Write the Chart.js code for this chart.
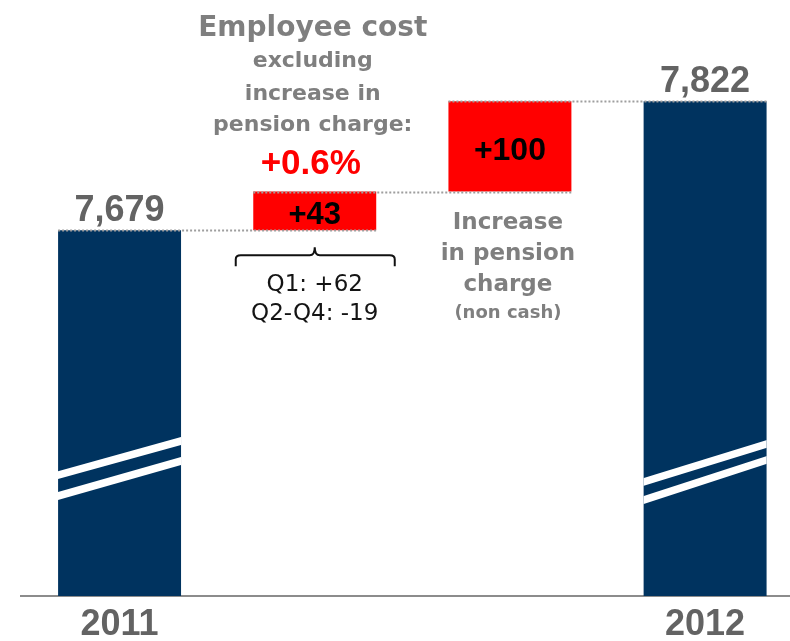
<!DOCTYPE html>
<html>
<head>
<meta charset="utf-8">
<script src="https://cdn.jsdelivr.net/npm/chart.js@4/dist/chart.umd.min.js"></script>
<style>
  html, body { margin: 0; padding: 0; background: #ffffff; overflow: hidden; }
  #wrap { position: relative; width: 790px; height: 641px; }
</style>
</head>
<body>
<div id="wrap"><canvas id="chart"></canvas></div>
<script>
// Employee cost bridge 2011 -> 2012
const categories = ['2011', 'Employee cost excl. pension', 'Increase in pension charge', '2012'];
const tickLabels = ['2011', '', '', '2012'];
const amounts = [7679, 43, 100, 7822];
const isTotal = [true, false, false, true];

const titleLines = ['Employee cost', 'excluding', 'increase in', 'pension charge:'];
const headline = '+0.6%';
const quarterLines = ['Q1: +62', 'Q2-Q4: -19'];
const pensionLines = ['Increase', 'in pension', 'charge'];
const pensionNote = '(non cash)';

const NAVY = '#00335f';
const RED = '#ff0000';
const GREY_TEXT = '#7f7f7f';
const VALUE_TEXT = '#636363';

// Totals stand on the axis; changes float on top of the running total.
let running = 0;
const points = amounts.map((v, i) => {
  if (isTotal[i]) { running = v; return { x: i, y: v }; }
  const p = { x: i, y: [running, running + v] };
  running += v;
  return p;
});
const levels = points.map(p => Array.isArray(p.y) ? p.y[1] : p.y);
const valueText = amounts.map((v, i) => isTotal[i] ? v.toLocaleString('en-US') : '+' + v);

const bridgePlugin = {
  id: 'bridge',
  afterDatasetsDraw(chart) {
    const ctx = chart.ctx;
    const bars = chart.getDatasetMeta(0).data;
    const y = chart.scales.y;
    const area = chart.chartArea;
    const axisY = y.getPixelForValue(y.min);

    // axis-break stripes across the total columns
    const stripes = [[0, [[121, 155], [100, 135]]], [3, [[114, 152], [96, 136]]]];
    stripes.forEach(([k, pairs]) => {
      const b = bars[k];
      const l = b.x - b.width / 2, r = b.x + b.width / 2;
      ctx.save();
      ctx.beginPath();
      ctx.rect(l, area.top, r - l, axisY - area.top);
      ctx.clip();
      ctx.strokeStyle = '#ffffff';
      ctx.lineWidth = 7.5;
      pairs.forEach(([a, c]) => {
        const s = (c - a) / (r - l);
        ctx.beginPath();
        ctx.moveTo(l - 4, axisY - a + 4 * s);
        ctx.lineTo(r + 4, axisY - c - 4 * s);
        ctx.stroke();
      });
      ctx.restore();
    });

    // dotted connectors between consecutive columns
    ctx.save();
    ctx.strokeStyle = '#9e9e9e';
    ctx.lineWidth = 2;
    ctx.setLineDash([2, 2]);
    for (let i = 0; i < bars.length - 1; i++) {
      const py = Math.round(y.getPixelForValue(levels[i])) + 0.5;
      const a = bars[i], b = bars[i + 1];
      ctx.beginPath();
      ctx.moveTo(a.x - a.width / 2, py);
      ctx.lineTo(b.x + b.width / 2, py);
      ctx.stroke();
    }
    ctx.restore();

    // value labels
    ctx.save();
    ctx.textAlign = 'center';
    ctx.textBaseline = 'alphabetic';
    bars.forEach((b, i) => {
      const top = y.getPixelForValue(levels[i]);
      if (isTotal[i]) {
        ctx.fillStyle = VALUE_TEXT;
        ctx.font = 'bold 36px "Liberation Sans", Arial, sans-serif';
        ctx.fillText(valueText[i], b.x, top - 9);
      } else {
        const size = i === 1 ? 31 : 32;
        const bottom = y.getPixelForValue(levels[i] - amounts[i]);
        ctx.fillStyle = '#000000';
        ctx.font = 'bold ' + size + 'px "Liberation Sans", Arial, sans-serif';
        const mid = (top + bottom) / 2;
        ctx.fillText(valueText[i], b.x, mid + size * 0.358 + 2);
      }
    });

    // headline block above the first change
    const d1 = bars[1];
    const d1Top = y.getPixelForValue(levels[1]);
    const d1Bottom = y.getPixelForValue(levels[0]);
    ctx.fillStyle = GREY_TEXT;
    ctx.font = 'bold 28px "DejaVu Sans", sans-serif';
    ctx.fillText(titleLines[0], d1.x - 2, d1Top - 156);
    ctx.font = 'bold 22px "DejaVu Sans", sans-serif';
    [-125, -92, -61].forEach((off, j) => ctx.fillText(titleLines[j + 1], d1.x - 2, d1Top + off));
    ctx.fillStyle = RED;
    ctx.font = 'bold 35px "Liberation Sans", Arial, sans-serif';
    ctx.fillText(headline, d1.x - 4, d1Top - 18);

    // quarterly split under the first change
    const bx = d1.x, by = d1Bottom;
    ctx.strokeStyle = '#111111';
    ctx.lineWidth = 2;
    ctx.beginPath();
    ctx.moveTo(bx - 79, by + 36);
    ctx.lineTo(bx - 79, by + 29);
    ctx.quadraticCurveTo(bx - 79, by + 25, bx - 74, by + 25);
    ctx.lineTo(bx - 5, by + 25);
    ctx.quadraticCurveTo(bx, by + 25, bx, by + 17);
    ctx.quadraticCurveTo(bx, by + 25, bx + 5, by + 25);
    ctx.lineTo(bx + 75, by + 25);
    ctx.quadraticCurveTo(bx + 80, by + 25, bx + 80, by + 29);
    ctx.lineTo(bx + 80, by + 36);
    ctx.stroke();
    ctx.fillStyle = '#141414';
    ctx.font = '23px "DejaVu Sans", sans-serif';
    ctx.fillText(quarterLines[0], bx, by + 61);
    ctx.fillText(quarterLines[1], bx, by + 90);

    // note under the pension change
    const d2 = bars[2];
    const d2Bottom = y.getPixelForValue(levels[1]);
    ctx.fillStyle = GREY_TEXT;
    ctx.font = 'bold 23px "DejaVu Sans", sans-serif';
    [37, 68, 99].forEach((off, j) => ctx.fillText(pensionLines[j], d2.x - 2, d2Bottom + off));
    ctx.font = 'bold 18px "DejaVu Sans", sans-serif';
    ctx.fillText(pensionNote, d2.x - 2, d2Bottom + 126);
    ctx.restore();
  }
};

new Chart(document.getElementById('chart'), {
  type: 'bar',
  data: {
    labels: categories,
    datasets: [{
      data: points,
      backgroundColor: amounts.map((_, i) => isTotal[i] ? NAVY : RED),
      borderWidth: 0,
      barPercentage: 0.63,
      categoryPercentage: 1
    }]
  },
  options: {
    responsive: true,
    maintainAspectRatio: false,
    devicePixelRatio: 1,
    animation: false,
    layout: { padding: { left: 21, right: 0, top: 20, bottom: 0 } },
    plugins: { legend: { display: false }, tooltip: { enabled: false } },
    scales: {
      x: {
        type: 'linear',
        offset: false,
        min: -0.505,
        max: 3.435,
        afterBuildTicks: (scale) => { scale.ticks = tickLabels.map((_, i) => ({ value: i })); },
        afterFit: (scale) => { scale.height = 45; },
        grid: { display: false, drawTicks: false, offset: false },
        border: { display: true, color: '#8c8c8c', width: 2 },
        ticks: {
          callback: (v) => tickLabels[v] ?? '',
          autoSkip: false,
          maxRotation: 0,
          padding: 17,
          color: VALUE_TEXT,
          font: { family: '"Liberation Sans", Arial, sans-serif', weight: 'bold', size: 36, lineHeight: 0.667 }
        }
      },
      y: {
        display: false,
        min: 7274,
        max: 7912
      }
    }
  },
  plugins: [bridgePlugin]
});
</script>
</body>
</html>
